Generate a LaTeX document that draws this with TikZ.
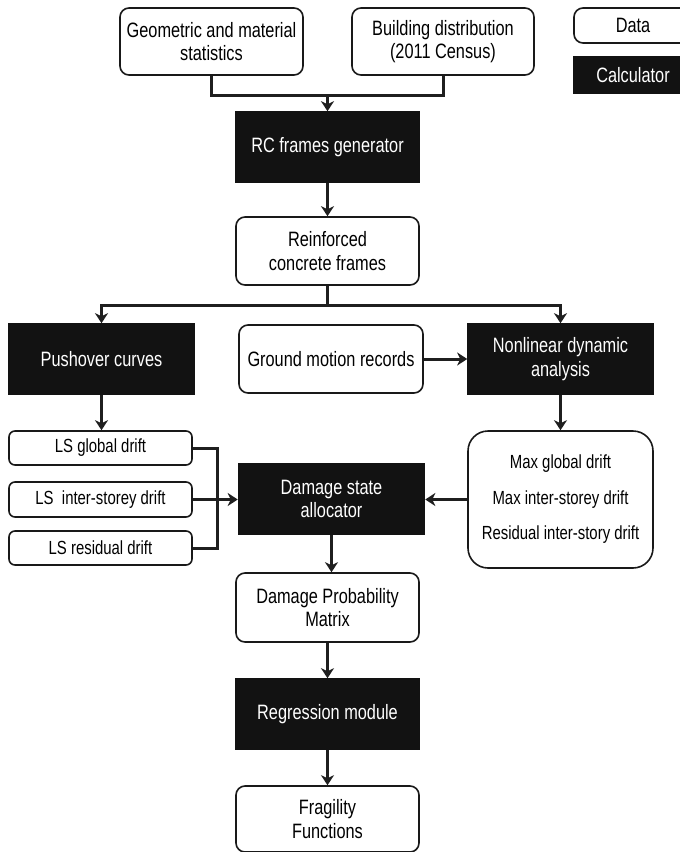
\documentclass[tikz,border=0pt]{standalone}
\usepackage{fontspec}
\setmainfont[FakeStretch=0.785]{Liberation Sans}
\usetikzlibrary{arrows.meta}
\tikzset{
  base/.style={draw=black!90, line width=1.6pt, align=center, inner sep=0pt, font=\fontsize{20.8}{23.5}\selectfont},
  data/.style={base, rounded corners=9pt, fill=white, text=black},
  calc/.style={base, fill=black!93, draw=black!93, text=white},
  small/.style={font=\fontsize{19}{21}\selectfont},
  conn/.style={line width=3pt, draw=black!88},
  arr/.style={conn, -{Stealth[length=10pt, width=13pt, inset=3pt]}},
}
\begin{document}
\begin{tikzpicture}[x=1pt, y=-1pt]
\useasboundingbox (0,0) rectangle (680,852);
% nodes
\node[data, minimum width=183, minimum height=67] (geo) at (211.5,41.5) {Geometric and material\\statistics};
\node[data, minimum width=182, minimum height=67] (bld) at (443,41.5) {Building distribution\\(2011 Census)};
\node[data, minimum width=118, minimum height=35] (legd) at (633,25.5) {Data};
\node[calc, minimum width=118, minimum height=36] (legc) at (633,75) {Calculator};
\node[calc, minimum width=183, minimum height=70] (rc) at (327.5,147) {RC frames generator};
\node[data, minimum width=183, minimum height=68] (rcf) at (327.5,251) {Reinforced\\concrete frames};
\node[calc, minimum width=185, minimum height=70] (push) at (101.5,359) {Pushover curves};
\node[data, minimum width=184, minimum height=68] (gm) at (331,359) {Ground motion records};
\node[calc, minimum width=185, minimum height=70] (nl) at (560.5,359) {Nonlinear dynamic\\analysis};
\node[data, small, rounded corners=6pt, minimum width=183, minimum height=34] (lsg) at (100.5,448) {LS global drift};
\node[data, small, rounded corners=6pt, minimum width=183, minimum height=35] (lsi) at (100.5,499.5) {LS\ \ inter-storey drift};
\node[data, small, rounded corners=6pt, minimum width=183, minimum height=34] (lsr) at (100.5,548) {LS residual drift};
\node[calc, minimum width=186, minimum height=70] (dsa) at (331.5,499) {Damage state\\allocator};
\node[data, rounded corners=20pt, minimum width=185, minimum height=137, font=\fontsize{19}{35.5}\selectfont] (mx) at (560.5,499.5) {Max global drift\\Max inter-storey drift\\Residual inter-story drift};
\node[data, minimum width=183, minimum height=69] (dpm) at (327.5,607.5) {Damage Probability\\Matrix};
\node[calc, minimum width=183, minimum height=70] (reg) at (327.5,714) {Regression module};
\node[data, minimum width=183, minimum height=66] (frag) at (327.5,819) {Fragility\\Functions};
% connectors
\coordinate (j1) at (327.5,95);
\draw[conn] (geo.south) |- (j1) -| (bld.south);
\draw[arr] (j1) -- (rc.north);
\draw[arr] (rc.south) -- (rcf.north);
\coordinate (j2) at (327.5,305);
\draw[conn] (rcf.south) -- (j2);
\draw[arr] (j2) -| (push.north);
\draw[arr] (j2) -| (nl.north);
\draw[arr] (gm.east) -- (nl.west);
\draw[arr] (push.south) -- (lsg.north -| push.south);
\draw[arr] (nl.south) -- (mx.north);
\coordinate (jt) at (217,448);
\coordinate (jb) at (217,548);
\draw[conn] (lsg.east) -- (jt) -- (jb) -- (lsr.east);
\draw[arr] (lsi.east) -- (lsi.east -| dsa.west);
\draw[arr] (mx.west) -- (mx.west -| dsa.east);
\draw[arr] (dsa.south) -- (dsa.south |- dpm.north);
\draw[arr] (dpm.south) -- (reg.north);
\draw[arr] (reg.south) -- (frag.north);
\end{tikzpicture}
\end{document}
